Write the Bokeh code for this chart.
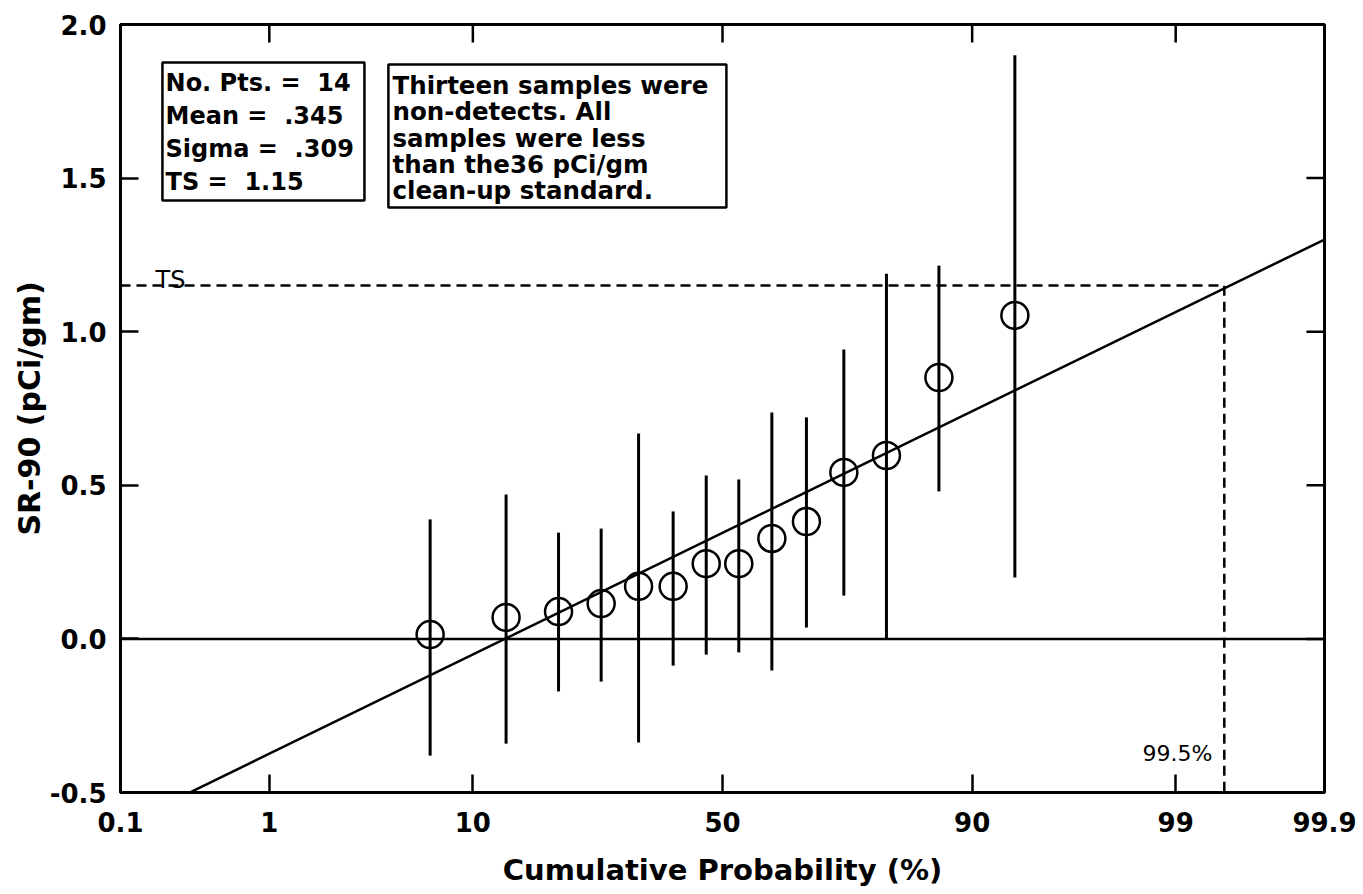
from statistics import NormalDist

from bokeh.plotting import figure
from bokeh.models import (Range1d, FixedTicker, LinearAxis, CustomJSTickFormatter,
                          PrintfTickFormatter, Span, BoxAnnotation, Label)
from bokeh.embed import file_html
from bokeh.resources import INLINE

# ---------------- data ----------------
cum_prob = [6.67, 13.33, 20.0, 26.67, 33.33, 40.0, 46.67,
            53.33, 60.0, 66.67, 73.33, 80.0, 86.67, 93.33]
sr90 = [0.014, 0.070, 0.089, 0.115, 0.171, 0.171, 0.245,
        0.245, 0.327, 0.382, 0.542, 0.597, 0.851, 1.053]
err_low = [-0.380, -0.341, -0.171, -0.139, -0.337, -0.087, -0.051,
           -0.044, -0.103, 0.037, 0.141, 0.0, 0.480, 0.200]
err_high = [0.389, 0.470, 0.346, 0.359, 0.669, 0.415, 0.532,
            0.519, 0.737, 0.721, 0.942, 1.189, 1.215, 1.900]

fit_prob = [0.1, 99.9]
fit_value = [-0.61, 1.30]

ts_value = 1.15
ts_prob = 99.5

x_tick_probs = [0.1, 1, 10, 50, 90, 99, 99.9]
x_tick_labels = ["0.1", "1", "10", "50", "90", "99", "99.9"]
y_ticks = [-0.5, 0.0, 0.5, 1.0, 1.5, 2.0]

NB = "\u00a0"
stats_lines = ["No. Pts. =" + NB + " 14", "Mean =" + NB + " .345",
               "Sigma =" + NB + " .309", "TS =" + NB + " 1.15"]
note_lines = ["Thirteen samples were", "non-detects. All", "samples were less",
              "than the36 pCi/gm", "clean-up standard."]

# ---------------- probability (probit) scale ----------------
nd = NormalDist()


def probit(pct):
    return nd.inv_cdf(pct / 100.0)


z_ticks = [probit(v) for v in x_tick_probs]
z_pts = [probit(v) for v in cum_prob]
z_fit = [probit(v) for v in fit_prob]
z_ts = probit(ts_prob)
x_min, x_max = z_ticks[0], z_ticks[-1]
y_min, y_max = y_ticks[0], y_ticks[-1]

FONT = "DejaVu Sans"
TICK_LEN = 18

p = figure(width=1358, height=894,
           x_range=Range1d(x_min, x_max), y_range=Range1d(y_min, y_max),
           x_axis_type=None, y_axis_type=None,
           output_backend="svg", toolbar_location=None, title=None,
           min_border_left=120, min_border_right=34,
           min_border_top=24, min_border_bottom=102)
p.outline_line_color = "black"
p.outline_line_width = 3
p.background_fill_color = "white"
p.border_fill_color = "white"


def style_axis(ax):
    ax.axis_line_color = "black"
    ax.axis_line_width = 3
    ax.major_tick_in = TICK_LEN
    ax.major_tick_out = 0
    ax.major_tick_line_color = "black"
    ax.major_tick_line_width = 2.5
    ax.minor_tick_line_color = None
    ax.major_label_text_font = FONT
    ax.major_label_text_font_style = "bold"
    ax.major_label_text_font_size = "26px"
    ax.major_label_text_color = "black"
    ax.axis_label_text_font = FONT
    ax.axis_label_text_font_style = "bold"
    ax.axis_label_text_font_size = "29px"
    ax.axis_label_text_color = "black"


x_formatter = CustomJSTickFormatter(args=dict(zs=z_ticks, labels=x_tick_labels), code="""
    let best = 0;
    for (let i = 0; i < zs.length; i++) {
        if (Math.abs(zs[i] - tick) < Math.abs(zs[best] - tick)) best = i;
    }
    return labels[best];
""")

xb = LinearAxis(ticker=FixedTicker(ticks=z_ticks), formatter=x_formatter,
                axis_label="Cumulative Probability (%)")
style_axis(xb)
xb.major_label_standoff = 19
xb.axis_label_standoff = 18
p.add_layout(xb, "below")

yl = LinearAxis(ticker=FixedTicker(ticks=y_ticks), formatter=PrintfTickFormatter(format="%.1f"),
                axis_label="SR-90 (pCi/gm)")
style_axis(yl)
yl.axis_label_text_font_size = "30px"
yl.major_label_standoff = 14
yl.axis_label_standoff = 0
p.add_layout(yl, "left")

# inward tick marks on the top and right frame edges
p.ray(x=z_ticks, y=[y_max] * len(z_ticks), length=TICK_LEN, length_units="screen",
      angle=-90, angle_units="deg", line_color="black", line_width=2.5)
p.ray(x=[x_max] * len(y_ticks), y=y_ticks, length=TICK_LEN, length_units="screen",
      angle=180, angle_units="deg", line_color="black", line_width=2.5)

# zero line
p.add_layout(Span(location=0, dimension="width", line_color="black", line_width=2.5))

# threshold (TS) dashed lines
p.line([x_min, z_ts, z_ts], [ts_value, ts_value, y_min], line_color="black",
       line_width=2.5, line_dash="10 6")

# fitted line
p.line(z_fit, fit_value, line_color="black", line_width=2.5)

# error bars and points
p.segment(x0=z_pts, y0=err_low, x1=z_pts, y1=err_high, line_color="black", line_width=3)
p.scatter(z_pts, sr90, marker="circle", size=27, fill_color=None,
          line_color="black", line_width=2.5)

# small labels
p.add_layout(Label(x=x_min, y=1.167, x_offset=35, text="TS", text_font=FONT,
                   text_font_size="24px", text_color="black", text_baseline="alphabetic"))
p.add_layout(Label(x=z_ts, y=-0.373, x_offset=-12, text=f"{ts_prob}%", text_font=FONT,
                   text_font_size="22px", text_color="black", text_align="right",
                   text_baseline="alphabetic"))

# text boxes
p.add_layout(BoxAnnotation(left=-2.875, right=-1.838, top=1.876, bottom=1.427,
                           fill_color="white", fill_alpha=1.0,
                           line_color="black", line_alpha=1.0, line_width=2.5))
p.add_layout(BoxAnnotation(left=-1.715, right=0.02, top=1.870, bottom=1.404,
                           fill_color="white", fill_alpha=1.0,
                           line_color="black", line_alpha=1.0, line_width=2.5))

for i, line in enumerate(stats_lines):
    p.add_layout(Label(x=-2.859, y=1.811 - i * 0.1074, text=line, text_font=FONT,
                       text_font_style="bold", text_font_size="24px", text_color="black",
                       text_baseline="middle"))

for i, line in enumerate(note_lines):
    p.add_layout(Label(x=-1.694, y=1.801 - i * 0.0855, text=line, text_font=FONT,
                       text_font_style="bold", text_font_size="24.5px", text_color="black",
                       text_baseline="middle"))

open("out.html", "w").write(file_html(p, INLINE))
